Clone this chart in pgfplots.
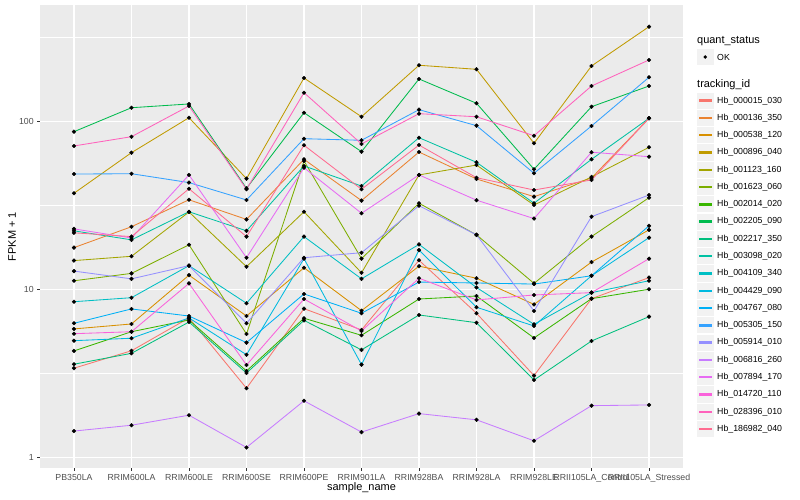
\documentclass[border=0pt]{standalone}
\usepackage{pgfplots}
\pgfplotsset{compat=1.18}
\usepackage{pgfplotstable}
\usepackage{fontspec}
\setmainfont{Liberation Sans}
\setsansfont{Liberation Sans}

% ggplot hue palette, 20 levels
\definecolor{c1}{HTML}{F8766D}
\definecolor{c2}{HTML}{EA8331}
\definecolor{c3}{HTML}{D89000}
\definecolor{c4}{HTML}{C09B00}
\definecolor{c5}{HTML}{A3A500}
\definecolor{c6}{HTML}{7CAE00}
\definecolor{c7}{HTML}{39B600}
\definecolor{c8}{HTML}{00BB4E}
\definecolor{c9}{HTML}{00BF7D}
\definecolor{c10}{HTML}{00C1A3}
\definecolor{c11}{HTML}{00BFC4}
\definecolor{c12}{HTML}{00BAE0}
\definecolor{c13}{HTML}{00B0F6}
\definecolor{c14}{HTML}{35A2FF}
\definecolor{c15}{HTML}{9590FF}
\definecolor{c16}{HTML}{C77CFF}
\definecolor{c17}{HTML}{E76BF3}
\definecolor{c18}{HTML}{FA62DB}
\definecolor{c19}{HTML}{FF62BC}
\definecolor{c20}{HTML}{FF6C91}
\definecolor{panelbg}{HTML}{EBEBEB}
\definecolor{keybg}{HTML}{F2F2F2}
\definecolor{grey30}{HTML}{4D4D4D}
\definecolor{grey20}{HTML}{333333}

% FPKM + 1 per sample (rows) and tracking id (columns s1..s20)
\pgfplotstableread{
x  s1    s2    s3    s4    s5    s6    s7    s8    s9    s10   s11   s12   s13   s14   s15   s16   s17   s18   s19   s20
0  3.41  17.8  5.84  37.5  14.9  11.3  4.32  87.2  3.60  22.4  8.48  4.97  6.31  48.8  12.9  1.44  23.0  5.47  71.7  21.8
1  4.33  23.7  6.25  65.4  15.8  12.5  5.62  121.1 4.18  19.8  8.96  5.14  7.68  49.0  11.6  1.56  20.3  5.62  81.4  20.7
2  6.79  34.3  12.2  105.6 29.0  18.5  6.60  127.5 6.42  29.1  13.9  6.79  6.97  43.4  13.9  1.79  48.2  10.9  124   39.9
3  2.59  26.2  6.97  45.8  13.7  5.45  3.28  40.1  3.19  22.4  8.30  4.10  4.84  34.2  6.31  1.15  15.5  3.56  39.6  20.7
4  7.71  59.7  13.5  182   29.1  58.4  6.76  113.1 6.57  54.5  20.7  15.3  9.43  79.2  15.5  2.18  53.2  8.80  148.8 72.4
5  5.76  33.9  7.50  107   12.6  15.3  5.35  66.3  4.38  41.4  11.6  3.58  7.24  77.5  16.6  1.42  28.5  5.68  73.7  39.6
6  14.96 66.0  13.8  216.7 48.2  32.7  8.80  179.6 7.07  80.3  18.6  17.2  11.1  117.9 31.6  1.83  48.2  11.7  111.6 72.6
7  7.24  45.6  11.7  205   55.2  21.2  9.17  128.7 6.36  57.3  10.3  7.86  10.96 94.7  21.2  1.68  34.1  8.69  107   46.4
8  3.08  35.8  8.17  74.4  31.9  10.9  5.16  52.1  2.90  32.7  6.22  6.08  10.8  49.3  7.47  1.26  26.5  9.30  82.5  39.2
9  8.84  46.2  14.6  214.6 46.9  20.7  8.84  122.8 4.95  59.7  9.60  12.1  12.1  94.3  27.2  2.04  65.8  9.60  163.1 45.0
10 11.8  104.8 22.7  367.8 70.4  35.3  10.06 163.1 6.91  104.8 11.3  20.4  24.0  183.8 36.6  2.06  61.9  15.3  233   104.8
}\data

\begin{document}
\begin{tikzpicture}
\useasboundingbox (0,0) rectangle (800bp,500bp);
\begin{axis}[
  at={(40bp,32bp)}, anchor=south west,
  scale only axis, width=643bp, height=463bp,
  ymode=log, ymin=0.868, ymax=495,
  xmin=-0.591, xmax=10.591,
  axis background/.style={fill=panelbg},
  axis line style={draw=none},
  xtick={0,...,10},
  xticklabels={PB350LA,RRIM600LA,RRIM600LE,RRIM600SE,RRIM600PE,RRIM901LA,RRIM928BA,RRIM928LA,RRIM928LE,RRII105LA\_Control,RRII105LA\_Stressed},
  ytick={1,10,100}, yticklabels={1,10,100},
  minor ytick={3.1623,31.623,316.23},
  grid=both,
  major grid style={white, line width=1.1pt},
  minor grid style={white, line width=0.55pt},
  tick pos=left, tick align=outside,
  major tick length=2.75pt, minor tick length=0pt,
  every tick/.style={grey20, line width=0.55pt},
  ticklabel style={font=\fontsize{8.8}{10}\selectfont, text=grey30},
  xlabel={sample\_name}, ylabel={FPKM + 1},
  label style={font=\fontsize{11}{13}\selectfont},
  xlabel style={at={(axis description cs:0.5,-0.043)}, anchor=center},
  ylabel style={at={(axis description cs:-0.0435,0.5)}, anchor=center},
]
\pgfplotsinvokeforeach{1,...,20}{
  \addplot[draw=c#1, line width=0.85pt, mark=none] table[x=x, y=s#1] {\data};
}
\pgfplotsinvokeforeach{1,...,20}{
  \addplot[black, only marks, mark=*, mark size=1.9pt] table[x=x, y=s#1] {\data};
}
\end{axis}

% legend
\node[anchor=west, font=\fontsize{11}{13}\selectfont, inner sep=0pt] at (697bp,459bp) {quant\_status};
\fill[keybg] (697bp,434.8bp) rectangle (713.5bp,451.3bp);
\fill[black] (705.2bp,443bp) circle (1.9pt);
\node[anchor=west, font=\fontsize{8.8}{10}\selectfont, inner sep=0pt] at (717bp,443bp) {OK};
\node[anchor=west, font=\fontsize{11}{13}\selectfont, inner sep=0pt] at (697bp,415bp) {tracking\_id};
\foreach \n/\lab in {1/Hb\_000015\_030,2/Hb\_000136\_350,3/Hb\_000538\_120,4/Hb\_000896\_040,5/Hb\_001123\_160,6/Hb\_001623\_060,7/Hb\_002014\_020,8/Hb\_002205\_090,9/Hb\_002217\_350,10/Hb\_003098\_020,11/Hb\_004109\_340,12/Hb\_004429\_090,13/Hb\_004767\_080,14/Hb\_005305\_150,15/Hb\_005914\_010,16/Hb\_006816\_260,17/Hb\_007894\_170,18/Hb\_014720\_110,19/Hb\_028396\_010,20/Hb\_186982\_040}{
  \pgfmathsetmacro\yy{500-100.7-(\n-1)*17.28}
  \fill[keybg] (697bp,\yy bp-8.1bp) rectangle (713.5bp,\yy bp+8.1bp);
  \fill[c\n] (698.5bp,\yy bp-1.2bp) rectangle (712bp,\yy bp+1.2bp);
  \node[anchor=west, font=\fontsize{8.8}{10}\selectfont, inner sep=0pt] at (717bp,\yy bp) {\lab};
}
\end{tikzpicture}
\end{document}
